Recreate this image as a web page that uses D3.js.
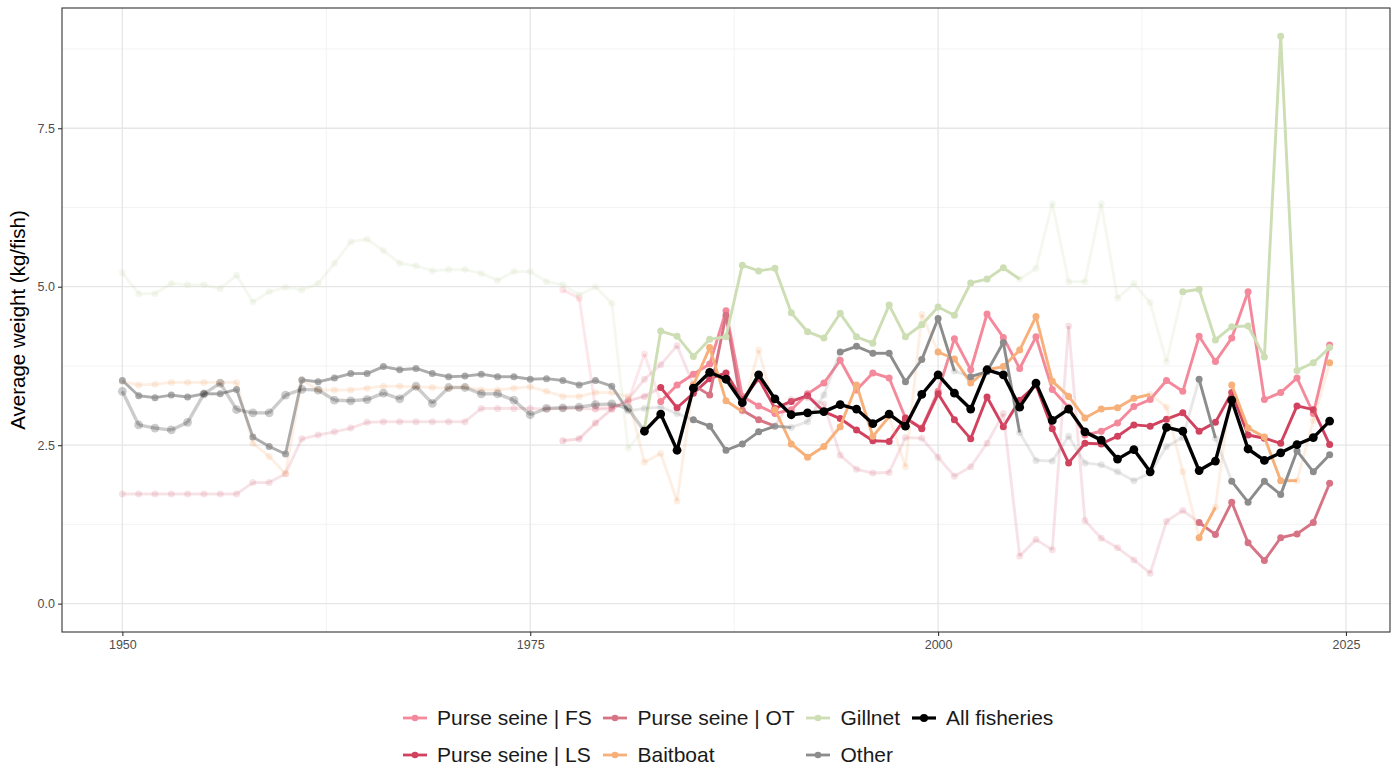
<!DOCTYPE html>
<html><head><meta charset="utf-8">
<script src="https://cdn.jsdelivr.net/npm/d3@7/dist/d3.min.js"></script>
<style>
body{margin:0;background:#fff;}
text{font-family:"Liberation Sans",Arial,Helvetica,sans-serif;}
</style>
</head><body>
<svg id="chart" width="1398" height="769"></svg>
<script>
// ---------------- DATA ----------------
const firstYear = 1950;       // first year of the full-length series
const psFirstYear = 1977;     // first year of the purse seine FS / LS series

const xTicks = [1950, 1975, 2000, 2025];
const yTicks = [0, 2.5, 5, 7.5];

const seriesNames = ["Purse seine | FS","Purse seine | LS","Purse seine | OT","Baitboat","Gillnet","Other","All fisheries"];

// average weight (kg/fish)
const psFS = [4.95,4.82,3.08,
  3.10,3.18,3.94,3.19,3.45,3.62,3.78,4.62,3.27,3.12,
  3.00,3.06,3.31,3.48,3.84,3.37,3.64,3.56,2.93,2.77,
  3.35,4.18,3.69,4.57,4.20,3.71,4.21,3.38,3.10,2.66,
  2.72,2.85,3.11,3.22,3.52,3.35,4.22,3.82,4.19,4.92,
  3.22,3.33,3.56,3.00,4.08];
const psLS = [2.57,2.60,2.85,
  3.07,3.20,3.27,3.41,3.09,3.32,3.55,3.64,3.22,3.55,
  3.08,3.19,3.28,3.03,2.92,2.74,2.57,2.56,2.93,2.76,
  3.31,2.90,2.60,3.26,2.79,3.21,3.45,2.76,2.22,2.53,
  2.52,2.64,2.82,2.80,2.91,3.01,2.72,2.86,3.33,2.66,
  2.61,2.53,3.12,3.06,2.51];
const psOT = [1.73,1.73,1.73,1.73,1.73,1.73,1.73,1.73,1.91,1.91,
  2.05,2.60,2.66,2.71,2.77,2.86,2.87,2.87,2.87,2.87,
  2.87,2.87,3.08,3.08,3.08,3.08,3.07,3.08,3.08,3.07,
  3.07,3.22,3.54,3.77,4.07,3.45,3.29,4.55,3.05,2.90,
  2.80,3.22,3.25,3.15,2.34,2.12,2.06,2.07,2.62,2.61,
  2.31,2.01,2.16,2.53,3.00,0.75,1.01,0.85,4.38,1.31,
  1.03,0.88,0.69,0.48,1.30,1.47,1.28,1.09,1.60,0.96,
  0.68,1.04,1.10,1.28,1.90];
const baitboat = [3.50,3.45,3.46,3.49,3.49,3.49,3.49,3.49,2.53,2.32,
  2.05,3.53,3.37,3.37,3.37,3.40,3.43,3.43,3.42,3.41,
  3.40,3.42,3.37,3.37,3.40,3.42,3.35,3.27,3.27,3.33,
  3.33,3.27,2.23,2.37,1.62,3.45,4.04,3.20,3.03,4.00,
  3.06,2.52,2.31,2.48,2.79,3.45,2.64,2.95,2.16,4.56,
  3.97,3.86,3.48,3.69,3.74,4.00,4.53,3.51,3.27,2.93,
  3.07,3.09,3.24,3.30,3.10,2.08,1.04,1.52,3.45,2.77,
  2.63,1.94,1.94,2.89,3.80];
const gillnet = [5.22,4.89,4.89,5.05,5.03,5.03,4.97,5.18,4.76,4.92,
  4.99,4.95,5.05,5.37,5.71,5.75,5.57,5.37,5.33,5.25,
  5.27,5.27,5.21,5.10,5.24,5.24,5.08,5.03,4.87,5.00,
  4.74,2.45,2.76,4.30,4.22,3.90,4.17,4.21,5.34,5.25,
  5.29,4.59,4.29,4.19,4.58,4.21,4.11,4.71,4.21,4.40,
  4.68,4.55,5.06,5.12,5.30,5.12,5.29,6.31,5.08,5.08,
  6.31,4.82,5.05,4.75,3.82,4.92,4.96,4.16,4.37,4.38,
  3.89,8.95,3.68,3.80,4.04];
const other = [3.52,3.28,3.25,3.29,3.26,3.31,3.31,3.38,2.63,2.48,
  2.36,3.53,3.50,3.56,3.63,3.63,3.74,3.69,3.71,3.63,
  3.58,3.59,3.62,3.58,3.58,3.54,3.55,3.52,3.45,3.52,
  3.43,3.04,3.08,3.10,3.00,2.90,2.80,2.42,2.52,2.71,
  2.80,2.78,2.87,3.29,3.97,4.06,3.95,3.95,3.50,3.85,
  4.50,3.67,3.58,3.66,4.12,2.70,2.26,2.25,2.64,2.22,
  2.19,2.08,1.94,2.06,2.48,2.62,3.54,2.61,1.93,1.60,
  1.93,1.72,2.41,2.08,2.35];
const allFisheries = [3.35,2.82,2.77,2.74,2.86,3.31,3.48,3.06,3.01,3.01,
  3.29,3.38,3.37,3.21,3.20,3.22,3.32,3.23,3.43,3.16,
  3.41,3.41,3.31,3.31,3.21,2.98,3.08,3.09,3.10,3.14,
  3.15,3.08,2.72,2.99,2.42,3.40,3.65,3.54,3.17,3.61,
  3.23,2.98,3.01,3.03,3.14,3.07,2.84,2.99,2.80,3.30,
  3.61,3.32,3.07,3.69,3.61,3.10,3.48,2.89,3.07,2.71,
  2.58,2.28,2.43,2.08,2.78,2.72,2.10,2.25,3.21,2.44,
  2.26,2.38,2.51,2.62,2.88];

// data-quality class per year (0 = low, 1 = medium, 2 = good)
const qFS = [0,0,0, 0,0,0,2,2,2,2,2,2,2, 2,2,2,2,2,2,2,2,2,2, 2,2,2,2,2,2,2,2,2,2, 2,2,2,2,2,2,2,2,2,2, 2,2,2,2,2];
const qLS = [0,0,0, 0,0,0,2,2,2,2,2,2,2, 2,2,2,2,2,2,2,2,2,2, 2,2,2,2,2,2,2,2,2,2, 2,2,2,2,2,2,2,2,2,2, 2,2,2,2,2];
const qOT = [0,0,0,0,0,0,0,0,0,0, 0,0,0,0,0,0,0,0,0,0, 0,0,0,0,0,0,0,0,0,0,
  0,0,0,0,0,2,2,2,2,2, 0,0,0,0,0,0,0,0,0,0, 0,0,0,0,0,0,0,0,0,0,
  0,0,0,0,0,0,2,2,2,2, 2,2,2,2,2];
const qBait = [0,0,0,0,0,0,0,0,0,0, 0,0,0,0,0,0,0,0,0,0, 0,0,0,0,0,0,0,0,0,0,
  0,0,0,0,0,2,2,2,0,0, 2,2,2,2,2,2,2,0,0,0, 2,2,2,2,2,2,2,2,2,2,
  2,2,2,0,0,0,2,0,2,2, 2,2,0,0,2];
const qGill = [0,0,0,0,0,0,0,0,0,0, 0,0,0,0,0,0,0,0,0,0, 0,0,0,0,0,0,0,0,0,0,
  0,0,2,2,2,2,2,2,2,2, 2,2,2,2,2,2,2,2,2,2, 2,2,2,2,2,0,0,0,0,0,
  0,0,0,0,0,2,2,2,2,2, 2,2,2,2,2];
const qOther = [1,1,1,1,1,1,1,1,1,1, 1,1,1,1,1,1,1,1,1,1, 1,1,1,1,1,1,1,1,1,1,
  1,0,0,0,0,2,2,2,2,2, 1,0,0,0,2,2,2,2,2,2, 2,0,2,2,2,0,0,0,0,0,
  0,0,0,0,0,0,2,0,2,2, 2,2,2,2,2];
const qAll = [0,0,0,0,0,0,0,0,0,0, 0,0,0,0,0,0,0,0,0,0, 0,0,0,0,0,0,0,0,0,0,
  0,0,2,2,2,2,2,2,2,2, 2,2,2,2,2,2,2,2,2,2, 2,2,2,2,2,2,2,2,2,2,
  2,2,2,2,2,2,2,2,2,2, 2,2,2,2,2];

const colors = ["#F4899B","#D1425F","#D67485","#F7B079","#CDDEB4","#8C8C8C","#000000"];

// ---------------- BUILD ----------------
function build(name, start, vals, q, color){
  return {name, color, pts: vals.map((v,i)=>({year:start+i, value:v, q:q[i]}))};
}
const series = [
  build(seriesNames[0], psFirstYear, psFS, qFS, colors[0]),
  build(seriesNames[1], psFirstYear, psLS, qLS, colors[1]),
  build(seriesNames[2], firstYear, psOT, qOT, colors[2]),
  build(seriesNames[3], firstYear, baitboat, qBait, colors[3]),
  build(seriesNames[4], firstYear, gillnet, qGill, colors[4]),
  build(seriesNames[5], firstYear, other, qOther, colors[5]),
  build(seriesNames[6], firstYear, allFisheries, qAll, colors[6])
];

const svg = d3.select("#chart");
const P = {l:62, r:1390, t:8, b:632};

const allPts = series.flatMap(s=>s.pts);
const xMin = d3.min(allPts,d=>d.year), xMax = d3.max(allPts,d=>d.year);
const yMin = 0, yMax = d3.max(allPts,d=>d.value);
const xe = (xMax-xMin)*0.05, ye = (yMax-yMin)*0.05;
const x = d3.scaleLinear().domain([xMin-xe, xMax+xe]).range([P.l, P.r]);
const y = d3.scaleLinear().domain([yMin-ye, yMax+ye]).range([P.b, P.t]);
const alpha = d3.scaleOrdinal().domain([0,1,2]).range([0.2,0.72,1]);

svg.append("rect").attr("width",1398).attr("height",769).attr("fill","#fff");

// grid
const g = svg.append("g");
const minorX = xTicks.slice(0,-1).map((t,i)=>(t+xTicks[i+1])/2);
const minorY = yTicks.map(t=>t+1.25).filter(t=>y(t)>P.t);
g.selectAll(".mx").data(minorX).join("line")
  .attr("x1",d=>x(d)).attr("x2",d=>x(d)).attr("y1",P.t).attr("y2",P.b)
  .attr("stroke","#f0f0f0").attr("stroke-width",0.8);
g.selectAll(".my").data(minorY).join("line")
  .attr("x1",P.l).attr("x2",P.r).attr("y1",d=>y(d)).attr("y2",d=>y(d))
  .attr("stroke","#f0f0f0").attr("stroke-width",0.8);
g.selectAll(".Mx").data(xTicks).join("line")
  .attr("x1",d=>x(d)).attr("x2",d=>x(d)).attr("y1",P.t).attr("y2",P.b)
  .attr("stroke","#e6e6e6").attr("stroke-width",1.3);
g.selectAll(".My").data(yTicks).join("line")
  .attr("x1",P.l).attr("x2",P.r).attr("y1",d=>y(d)).attr("y2",d=>y(d))
  .attr("stroke","#e6e6e6").attr("stroke-width",1.3);

// series
const plot = svg.append("g");
series.forEach(s=>{
  const isAll = s.name==="All fisheries";
  const segs = [];
  for(let i=0;i<s.pts.length-1;i++){
    const a=s.pts[i], b=s.pts[i+1];
    if(a.value!=null && b.value!=null) segs.push({a,b});
  }
  const sg = plot.append("g");
  sg.selectAll("line").data(segs).join("line")
    .attr("x1",d=>x(d.a.year)).attr("y1",d=>y(d.a.value))
    .attr("x2",d=>x(d.b.year)).attr("y2",d=>y(d.b.value))
    .attr("stroke",s.color).attr("stroke-opacity",d=>alpha(d.a.q))
    .attr("stroke-width",isAll?3.4:2.9).attr("stroke-linecap","butt");
  sg.selectAll("circle").data(s.pts.filter(d=>d.value!=null)).join("circle")
    .attr("cx",d=>x(d.year)).attr("cy",d=>y(d.value))
    .attr("r",isAll?4.4:3.5).attr("fill",s.color).attr("fill-opacity",d=>alpha(d.q));
});

// panel border
svg.append("rect").attr("x",P.l).attr("y",P.t).attr("width",P.r-P.l).attr("height",P.b-P.t)
  .attr("fill","none").attr("stroke","#333").attr("stroke-width",1.1);

// axes
const ax = svg.append("g").attr("transform",`translate(0,${P.b})`)
  .call(d3.axisBottom(x).tickValues(xTicks).tickFormat(d3.format("d")).tickSize(4).tickPadding(4));
const ay = svg.append("g").attr("transform",`translate(${P.l},0)`)
  .call(d3.axisLeft(y).tickValues(yTicks).tickFormat(d3.format(".1f")).tickSize(4).tickPadding(3));
[ax,ay].forEach(a=>{
  a.select(".domain").remove();
  a.selectAll(".tick line").attr("stroke","#333").attr("stroke-width",1.1);
  a.selectAll(".tick text").attr("fill","#4d4d4d").style("font-size","12.5px")
    .style("font-family","'Liberation Sans',Arial,sans-serif");
});

svg.append("text").attr("transform",`translate(25,${(P.t+P.b)/2}) rotate(-90)`)
  .attr("text-anchor","middle").style("font-size","20.5px").attr("fill","#000")
  .text("Average weight (kg/fish)");

// legend (two rows, filled by column)
const legX = [{k:415,t:437},{k:615,t:637.5},{k:818,t:840.5},{k:924,t:946}];
const legY = [718,755];
const leg = svg.append("g");
series.forEach((s,i)=>{
  const col = Math.floor(i/2), row = i%2;
  const cx = legX[col].k, cy = legY[row];
  const isAll = s.name==="All fisheries";
  leg.append("line").attr("x1",cx-12).attr("x2",cx+12).attr("y1",cy).attr("y2",cy)
    .attr("stroke",s.color).attr("stroke-width",isAll?3.2:2.8);
  leg.append("circle").attr("cx",cx).attr("cy",cy).attr("r",isAll?4:3.3).attr("fill",s.color);
  leg.append("text").attr("x",legX[col].t).attr("y",cy).attr("dy","0.35em")
    .style("font-size","21px").attr("fill","#1a1a1a").text(s.name);
});
</script>
</body></html>
